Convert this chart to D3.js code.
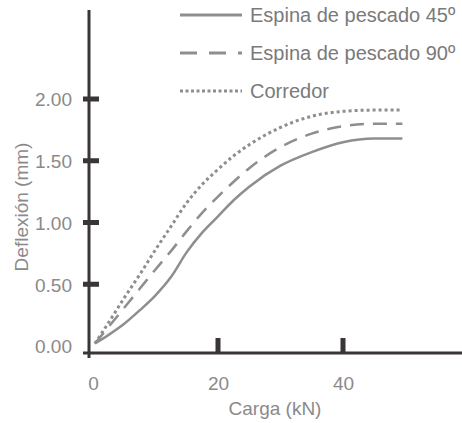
<!DOCTYPE html>
<html><head><meta charset="utf-8">
<script src="https://cdn.jsdelivr.net/npm/d3@7"></script>
<style>body{margin:0;background:#fff}svg{display:block}text{font-family:"Liberation Sans",Arial,sans-serif}</style>
</head><body><svg id="c" width="462" height="423"></svg>
<script>
const load = [0.3, 2.5, 5, 7.5, 10, 12.5, 15, 17.5, 20, 22.5, 25, 30, 35, 40, 45, 49.5];
const espina45 = [0.02, 0.09, 0.18, 0.29, 0.41, 0.56, 0.76, 0.92, 1.05, 1.18, 1.29, 1.46, 1.57, 1.65, 1.68, 1.68];
const espina90 = [0.02, 0.155, 0.31, 0.465, 0.62, 0.77, 0.93, 1.08, 1.21, 1.33, 1.44, 1.61, 1.72, 1.78, 1.80, 1.80];
const corredor = [0.02, 0.19, 0.39, 0.58, 0.78, 0.97, 1.16, 1.31, 1.43, 1.54, 1.63, 1.77, 1.86, 1.90, 1.91, 1.91];
const seriesNames = ["Espina de pescado 45º", "Espina de pescado 90º", "Corredor"];
const xTicks = [0, 20, 40];
const yTicks = [0, 0.5, 1, 1.5, 2];
const yTickLabels = ["0.00", "0.50", "1.00", "1.50", "2.00"];

const svg = d3.select("#c");
const x = d3.scaleLinear().domain([0, 40]).range([93, 343]);
const y = d3.scaleLinear().domain([0, 2]).range([346, 99]);
const axisCol = "#3a3536", lineCol = "#8e8e8e", textCol = "#8a8a8a";

// axes lines
svg.append("line").attr("x1", 89).attr("x2", 89).attr("y1", 10).attr("y2", 358)
  .attr("stroke", axisCol).attr("stroke-width", 3);
svg.append("line").attr("x1", 83).attr("x2", 462).attr("y1", 353).attr("y2", 353)
  .attr("stroke", axisCol).attr("stroke-width", 3);

// y ticks
const yAxis = d3.axisLeft(y).tickValues(yTicks).tickFormat((d, i) => yTickLabels[i]).tickSize(0).tickPadding(0);
const gy = svg.append("g").attr("transform", "translate(72,0)").call(yAxis);
gy.select(".domain").remove();
gy.selectAll("text").attr("fill", textCol).attr("font-size", 19).attr("dy", "0.36em");
svg.selectAll(".ytm").data(yTicks.filter(d => d > 0)).join("rect")
  .attr("x", 83).attr("width", 16).attr("y", d => y(d) - 2.5).attr("height", 5).attr("fill", axisCol);

// x ticks
const xAxis = d3.axisBottom(x).tickValues(xTicks).tickFormat(d3.format("d")).tickSize(0).tickPadding(0);
const gx = svg.append("g").attr("transform", "translate(0,391)").call(xAxis);
gx.select(".domain").remove();
gx.selectAll("text").attr("fill", textCol).attr("font-size", 19).attr("dy", "-0.05em");
svg.selectAll(".xtm").data(xTicks.filter(d => d > 0)).join("rect")
  .attr("x", d => x(d) - 2.5).attr("width", 5).attr("y", 338).attr("height", 15).attr("fill", axisCol);

// titles
svg.append("text").attr("x", 275).attr("y", 415).attr("text-anchor", "middle")
  .attr("font-size", 19).attr("fill", textCol).text("Carga (kN)");
svg.append("text").attr("transform", "translate(28,207) rotate(-90)").attr("text-anchor", "middle")
  .attr("font-size", 19).attr("fill", textCol).text("Deflexión (mm)");

// series
const dashes = [null, "14,9", "3,3"];
const data = [espina45, espina90, corredor];
const line = d3.line().x((d, i) => x(load[i])).y(d => y(d)).curve(d3.curveMonotoneX);
data.forEach((s, k) => {
  svg.append("path").attr("d", line(s)).attr("fill", "none").attr("stroke", lineCol)
    .attr("stroke-width", k === 2 ? 3 : 2.5).attr("stroke-dasharray", dashes[k]);
});

// legend
const legY = [15, 53, 91];
const legDash = [null, "17,12", "3,2.5"];
seriesNames.forEach((n, k) => {
  svg.append("line").attr("x1", 180).attr("x2", 242).attr("y1", legY[k]).attr("y2", legY[k])
    .attr("stroke", lineCol).attr("stroke-width", 3).attr("stroke-dasharray", legDash[k]);
  svg.append("text").attr("x", 250).attr("y", legY[k]).attr("dy", "0.36em")
    .attr("font-size", 20).attr("fill", "#7a7a7a").text(n);
});
</script></body></html>
